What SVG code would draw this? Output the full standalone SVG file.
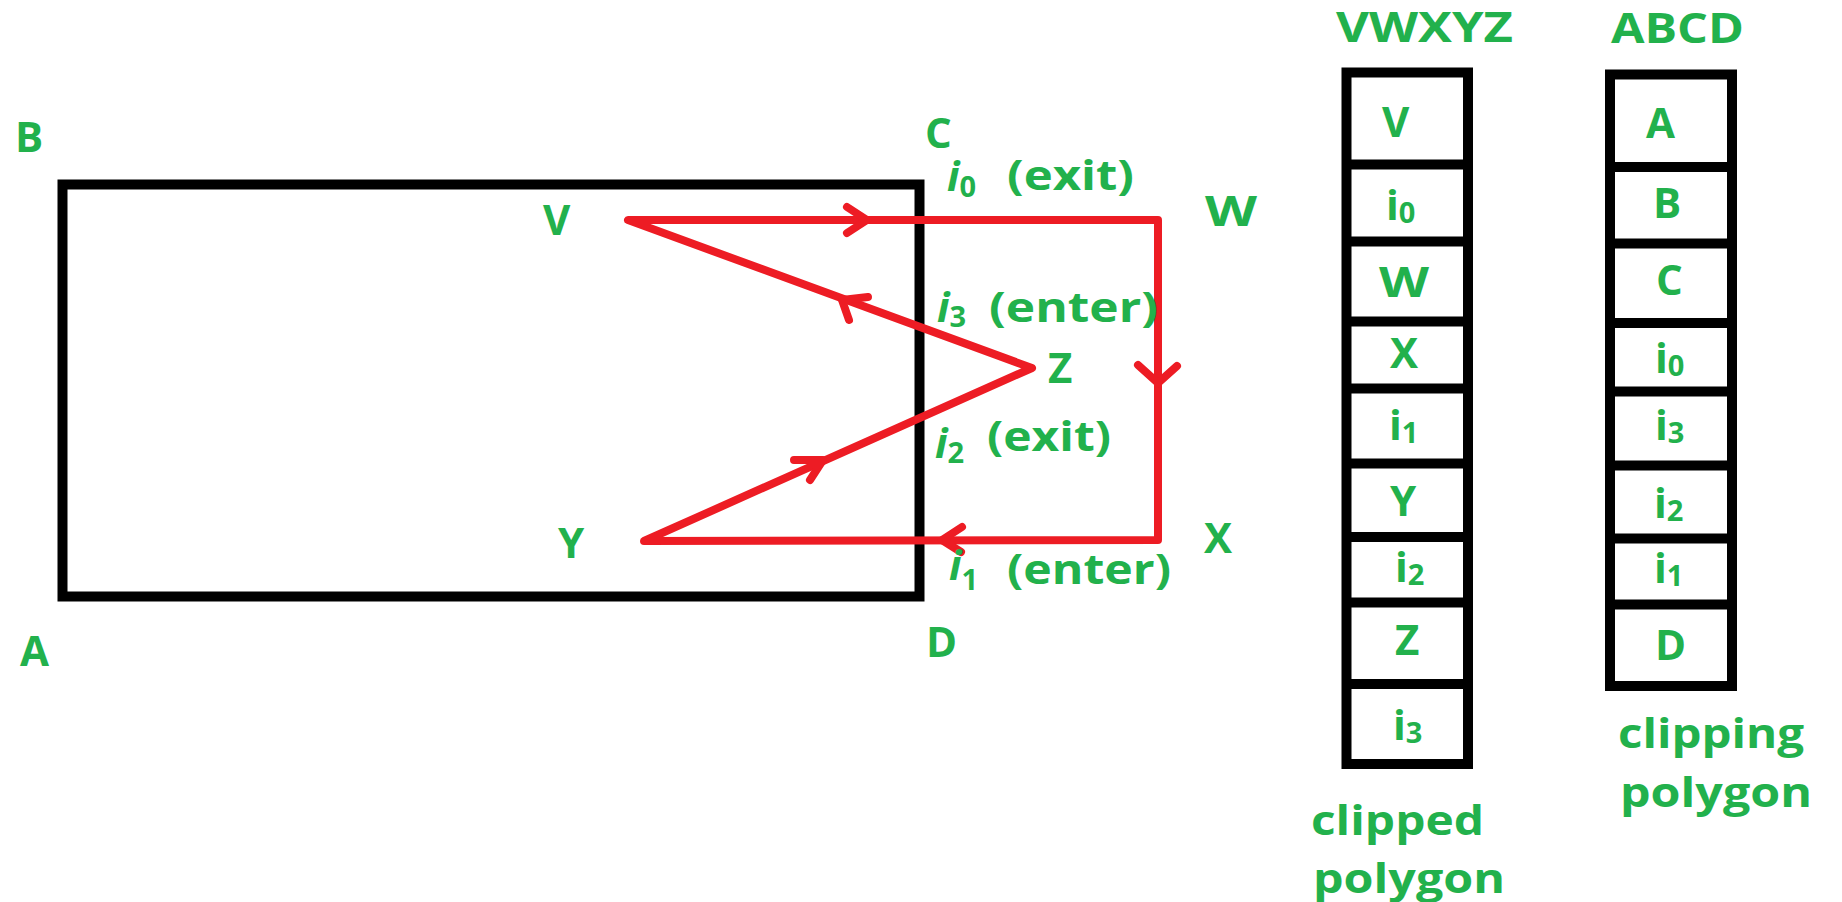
<svg xmlns="http://www.w3.org/2000/svg" width="1842" height="902" viewBox="0 0 1842 902">
<style>
text{font-family:"Open Sans","Liberation Sans",sans-serif;font-weight:700;fill:#22b14c;font-size:42px}
.sub{font-size:29px}
.it{font-style:italic}
.edge{fill:none;stroke:#ed1c24;stroke-width:8;stroke-linejoin:round;stroke-linecap:round}
.frame{fill:none;stroke:#000;stroke-width:10}
.tab{fill:none;stroke:#000;stroke-width:10}
</style>
<rect width="1842" height="902" fill="#fff"/>

<g id="clip-window">
<rect class="frame" x="62.5" y="184.5" width="857" height="412"/>
<text x="15" y="152">B</text>
<text x="20" y="666">A</text>
<text x="925" y="148">C</text>
<text x="926" y="657">D</text>
</g>

<g id="connectors">
<path class="edge" d="M628,220 L1158,220 L1158,540 L644,541 L1032,368 Z"/>
<polyline class="edge" points="847,207 867,220 847,233"/>
<polyline class="edge" points="1138,365 1158,383 1177,366"/>
<polyline class="edge" points="962,527 942,540 961,552"/>
<polyline class="edge" points="794,460 823,460 810,480"/>
<polyline class="edge" points="868,297 842,300 849,320"/>
</g>

<g id="node-V"><text x="543" y="235">V</text></g>
<g id="node-W"><text x="1205" y="226" textLength="52" lengthAdjust="spacingAndGlyphs">W</text></g>
<g id="node-X"><text x="1204" y="553">X</text></g>
<g id="node-Z"><text x="1048" y="383">Z</text></g>
<g id="node-Y"><text x="558" y="558">Y</text></g>

<g id="label-i0"><text x="947" y="191"><tspan class="it">i</tspan><tspan class="sub" dy="6">0</tspan></text><text x="1007" y="190" textLength="127" lengthAdjust="spacingAndGlyphs">(exit)</text></g>
<g id="label-i3"><text x="937" y="322"><tspan class="it">i</tspan><tspan class="sub" dy="5">3</tspan></text><text x="989" y="322" textLength="169" lengthAdjust="spacingAndGlyphs">(enter)</text></g>
<g id="label-i2"><text x="935" y="458"><tspan class="it">i</tspan><tspan class="sub" dy="5">2</tspan></text><text x="987" y="451" textLength="124" lengthAdjust="spacingAndGlyphs">(exit)</text></g>
<g id="label-i1"><text x="949" y="580"><tspan class="it">i</tspan><tspan class="sub" dy="10">1</tspan></text><text x="1007" y="584" textLength="164" lengthAdjust="spacingAndGlyphs">(enter)</text></g>

<g id="clipped-list">
<text x="1336" y="42" textLength="177" lengthAdjust="spacingAndGlyphs">VWXYZ</text>
<rect class="tab" x="1346.5" y="72.5" width="121.5" height="691.5"/>
<path class="tab" d="M1346,164.5H1468M1346,241.5H1468M1346,321.5H1468M1346,388.5H1468M1346,463.5H1468M1346,537H1468M1346,602.5H1468M1346,684H1468"/>
<text x="1382" y="137">V</text>
<text x="1386" y="220">i<tspan class="sub" dy="3">0</tspan></text>
<text x="1379" y="297" textLength="50" lengthAdjust="spacingAndGlyphs">W</text>
<text x="1390" y="368">X</text>
<text x="1389" y="440">i<tspan class="sub" dy="3">1</tspan></text>
<text x="1390" y="516">Y</text>
<text x="1395" y="582">i<tspan class="sub" dy="3">2</tspan></text>
<text x="1395" y="655">Z</text>
<text x="1393" y="740">i<tspan class="sub" dy="3">3</tspan></text>
<text x="1311" y="835" textLength="173" lengthAdjust="spacingAndGlyphs">clipped</text>
<text x="1313" y="893" textLength="192" lengthAdjust="spacingAndGlyphs">polygon</text>
</g>

<g id="clipping-list">
<text x="1611" y="43" textLength="133" lengthAdjust="spacingAndGlyphs">ABCD</text>
<rect class="tab" x="1610" y="74.5" width="122" height="611.5"/>
<path class="tab" d="M1610,167H1732M1610,243.5H1732M1610,323H1732M1610,391.5H1732M1610,465.5H1732M1610,538.5H1732M1610,604.5H1732"/>
<text x="1646" y="138">A</text>
<text x="1653" y="218">B</text>
<text x="1656" y="295">C</text>
<text x="1655" y="373">i<tspan class="sub" dy="3">0</tspan></text>
<text x="1655" y="440">i<tspan class="sub" dy="3">3</tspan></text>
<text x="1654" y="518">i<tspan class="sub" dy="3">2</tspan></text>
<text x="1654" y="583">i<tspan class="sub" dy="3">1</tspan></text>
<text x="1655" y="660">D</text>
<text x="1618" y="748" textLength="186" lengthAdjust="spacingAndGlyphs">clipping</text>
<text x="1620" y="807" textLength="192" lengthAdjust="spacingAndGlyphs">polygon</text>
</g>
</svg>
